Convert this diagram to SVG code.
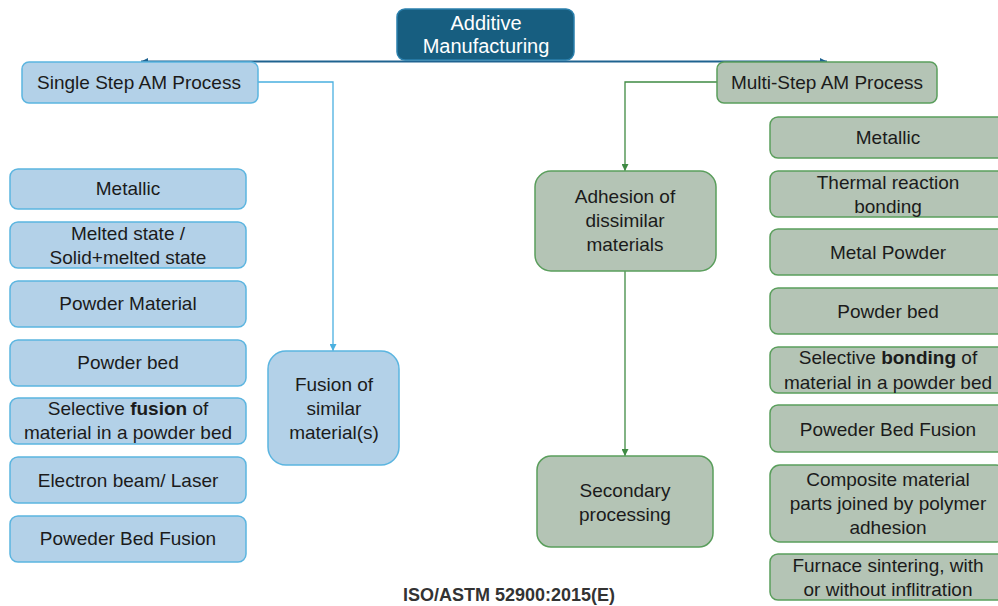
<svg xmlns="http://www.w3.org/2000/svg" width="998" height="606" viewBox="0 0 998 606">
<defs>
<style>
text{font-family:"Liberation Sans",Arial,sans-serif;font-size:19px;fill:#1b1b1b;text-anchor:middle}
.b rect{fill:#b3d1e8;stroke:#5bb5e0;stroke-width:1.5}
.g rect{fill:#b4c4b5;stroke:#5a9e5c;stroke-width:1.5}
.top rect{fill:#175e80;stroke:#2b80ad;stroke-width:1.5}
.top text{fill:#ffffff;font-size:20px}
.ft{font-weight:bold;font-size:18px;fill:#333}
</style>
<marker id="ab" viewBox="0 0 10 10" refX="10" refY="5" markerWidth="7" markerHeight="7" orient="auto-start-reverse" markerUnits="userSpaceOnUse"><path d="M0,0L10,5L0,10z" fill="#1f6390"/></marker>
<marker id="al" viewBox="0 0 10 10" refX="10" refY="5" markerWidth="7" markerHeight="7" orient="auto" markerUnits="userSpaceOnUse"><path d="M0,0L10,5L0,10z" fill="#4ab0e0"/></marker>
<marker id="ag" viewBox="0 0 10 10" refX="10" refY="5" markerWidth="7" markerHeight="7" orient="auto" markerUnits="userSpaceOnUse"><path d="M0,0L10,5L0,10z" fill="#3f8a43"/></marker>
</defs>
<rect width="998" height="606" fill="#ffffff"/>
<g id="connectors" fill="none">
<path d="M141,61.5H827" stroke="#1f6390" stroke-width="2" marker-start="url(#ab)" marker-end="url(#ab)"/>
<path d="M258,82H333V351" stroke="#4ab0e0" stroke-width="1.3" marker-end="url(#al)"/>
<path d="M717,82H625V171" stroke="#3f8a43" stroke-width="1.3" marker-end="url(#ag)"/>
<path d="M625,271V456" stroke="#3f8a43" stroke-width="1.3" marker-end="url(#ag)"/>
</g>
<g id="am" class="top"><rect x="397" y="9" width="177" height="51" rx="8"/><text x="486" y="30">Additive</text><text x="486" y="53">Manufacturing</text></g>
<g id="single" class="b"><rect x="22" y="62" width="236" height="41" rx="7"/><text x="139" y="89">Single Step AM Process</text></g>
<g id="multi" class="g"><rect x="717" y="62" width="220" height="41" rx="7"/><text x="827" y="89">Multi-Step AM Process</text></g>
<g id="s1" class="b"><rect x="10" y="169" width="236" height="40" rx="8"/><text x="128" y="195">Metallic</text></g>
<g id="s2" class="b"><rect x="10" y="222" width="236" height="46" rx="8"/><text x="128" y="240">Melted state /</text><text x="128" y="264">Solid+melted state</text></g>
<g id="s3" class="b"><rect x="10" y="281" width="236" height="46" rx="8"/><text x="128" y="310">Powder Material</text></g>
<g id="s4" class="b"><rect x="10" y="340" width="236" height="46" rx="8"/><text x="128" y="369">Powder bed</text></g>
<g id="s5" class="b"><rect x="10" y="398" width="236" height="46" rx="8"/><text x="128" y="415">Selective <tspan font-weight="bold">fusion</tspan> of</text><text x="128" y="439">material in a powder bed</text></g>
<g id="s6" class="b"><rect x="10" y="457" width="236" height="46" rx="8"/><text x="128" y="487">Electron beam/ Laser</text></g>
<g id="s7" class="b"><rect x="10" y="516" width="236" height="46" rx="8"/><text x="128" y="545">Poweder Bed Fusion</text></g>
<g id="fusion" class="b"><rect x="268" y="351" width="131" height="114" rx="18"/><text x="334" y="391">Fusion of</text><text x="334" y="415">similar</text><text x="334" y="439">material(s)</text></g>
<g id="adhesion" class="g"><rect x="535" y="171" width="181" height="100" rx="16"/><text x="625" y="203">Adhesion of</text><text x="625" y="227">dissimilar</text><text x="625" y="251">materials</text></g>
<g id="secondary" class="g"><rect x="537" y="456" width="176" height="91" rx="14"/><text x="625" y="497">Secondary</text><text x="625" y="521">processing</text></g>
<g id="m1" class="g"><rect x="770" y="117" width="236" height="41" rx="8"/><text x="888" y="144">Metallic</text></g>
<g id="m2" class="g"><rect x="770" y="171" width="236" height="46" rx="8"/><text x="888" y="189">Thermal reaction</text><text x="888" y="213">bonding</text></g>
<g id="m3" class="g"><rect x="770" y="229" width="236" height="46" rx="8"/><text x="888" y="259">Metal Powder</text></g>
<g id="m4" class="g"><rect x="770" y="288" width="236" height="46" rx="8"/><text x="888" y="318">Powder bed</text></g>
<g id="m5" class="g"><rect x="770" y="347" width="236" height="46" rx="8"/><text x="888" y="364">Selective <tspan font-weight="bold">bonding</tspan> of</text><text x="888" y="389">material in a powder bed</text></g>
<g id="m6" class="g"><rect x="770" y="405" width="236" height="47" rx="8"/><text x="888" y="436">Poweder Bed Fusion</text></g>
<g id="m7" class="g"><rect x="770" y="465" width="236" height="77" rx="10"/><text x="888" y="486">Composite material</text><text x="888" y="510">parts joined by polymer</text><text x="888" y="534">adhesion</text></g>
<g id="m8" class="g"><rect x="770" y="554" width="236" height="46" rx="8"/><text x="888" y="572">Furnace sintering, with</text><text x="888" y="596">or without inflitration</text></g>
<text class="ft" x="509" y="601">ISO/ASTM 52900:2015(E)</text>
</svg>
